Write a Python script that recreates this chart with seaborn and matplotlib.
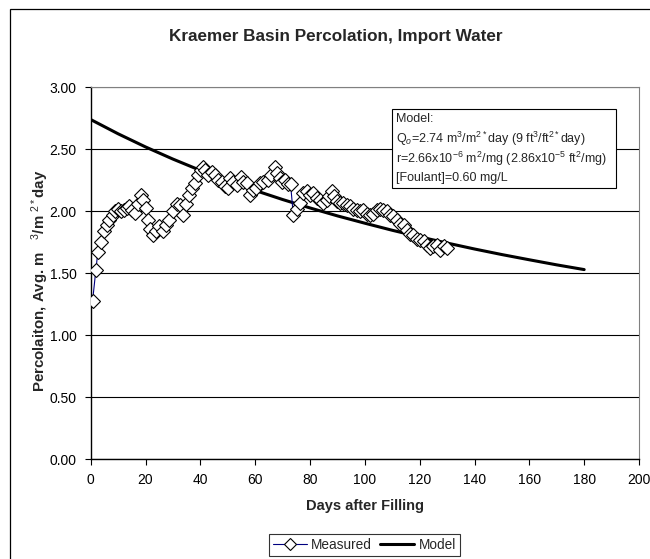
import matplotlib
matplotlib.use("Agg")
import matplotlib.pyplot as plt
from matplotlib.lines import Line2D
from matplotlib.patches import Rectangle
import seaborn as sns
import pandas as pd

# ---- data -------------------------------------------------------------
measured_days = [0.7, 1.9, 2.6, 3.8, 4.7, 5.8, 6.8, 8.0, 9.0, 9.9, 11.1, 12.3, 13.2, 14.1,
                 15.2, 16.3, 17.4, 18.4, 19.0, 20.2, 20.8, 21.6, 22.6, 23.8, 25.0, 26.3,
                 27.5, 28.7, 30.1, 31.4, 32.6, 33.8, 34.8, 36.0, 37.0, 38.2, 39.3, 40.3,
                 41.1, 41.7, 42.9, 44.2, 45.4, 46.6, 47.8, 49.0, 50.2, 50.8, 52.0, 53.3,
                 54.7, 55.7, 56.9, 58.1, 59.1, 60.3, 61.8, 63.0, 64.5, 65.9, 67.1, 68.0,
                 68.9, 69.7, 70.9, 72.1, 72.9, 73.9, 75.2, 76.4, 77.6, 78.8, 80.0, 81.2,
                 82.5, 83.7, 84.9, 86.1, 87.0, 88.0, 88.9, 89.8, 91.0, 92.2, 93.4, 94.6,
                 95.8, 97.1, 98.3, 99.5, 100.7, 101.9, 103.1, 104.4, 105.6, 106.8, 108.0,
                 109.2, 110.4, 111.6, 112.9, 114.1, 115.3, 116.5, 117.7, 119.0, 120.2,
                 121.4, 122.6, 123.8, 125.0, 126.3, 127.5, 128.7, 129.9]
measured_vals = [1.28, 1.53, 1.67, 1.75, 1.84, 1.89, 1.93, 1.97, 2.00, 2.02, 2.00, 2.01, 2.03, 2.04,
                 2.01, 1.99, 2.06, 2.13, 2.09, 2.03, 1.93, 1.86, 1.81, 1.84, 1.88, 1.84,
                 1.89, 1.93, 2.00, 2.06, 2.05, 1.97, 2.06, 2.13, 2.19, 2.23, 2.29, 2.33,
                 2.36, 2.33, 2.29, 2.32, 2.29, 2.25, 2.24, 2.20, 2.19, 2.27, 2.24, 2.21,
                 2.28, 2.24, 2.23, 2.13, 2.17, 2.19, 2.23, 2.24, 2.25, 2.29, 2.36, 2.31,
                 2.27, 2.24, 2.25, 2.22, 2.22, 1.97, 2.02, 2.07, 2.15, 2.16, 2.13, 2.15,
                 2.11, 2.09, 2.07, 2.09, 2.12, 2.16, 2.12, 2.08, 2.07, 2.07, 2.05, 2.04,
                 2.02, 2.01, 2.00, 2.01, 1.98, 1.97, 1.98, 2.01, 2.02, 2.01, 2.00,
                 1.97, 1.96, 1.93, 1.90, 1.89, 1.85, 1.82, 1.81, 1.78, 1.77,
                 1.76, 1.73, 1.70, 1.72, 1.73, 1.69, 1.72, 1.70]

model_days = [0, 10, 20, 30, 40, 50, 60, 70, 80, 90, 100, 110, 120, 130, 140, 150, 160, 170, 180]
model_vals = [2.74, 2.625, 2.519, 2.421, 2.330, 2.246, 2.168, 2.095, 2.027, 1.963, 1.904,
              1.847, 1.794, 1.744, 1.696, 1.651, 1.609, 1.568, 1.530]

x_ticks = [0, 20, 40, 60, 80, 100, 120, 140, 160, 180, 200]
y_ticks = [0.0, 0.5, 1.0, 1.5, 2.0, 2.5, 3.0]

title = "Kraemer Basin Percolation, Import Water"
x_label = "Days after Filling"
y_label = "Percolaiton, Avg. m   $^{3}$/m $^{2*}$day"
model_text = ["Model:",
              "Q$_{o}$=2.74 m$^{3}$/m$^{2*}$day (9 ft$^{3}$/ft$^{2*}$day)",
              "r=2.66x10$^{-6}$ m$^{2}$/mg (2.86x10$^{-5}$ ft$^{2}$/mg)",
              "[Foulant]=0.60 mg/L"]

# ---- style ------------------------------------------------------------
sns.set_theme(style="white")
plt.rcParams["font.family"] = ["Liberation Sans", "DejaVu Sans"]
plt.rcParams["mathtext.fontset"] = "custom"
plt.rcParams["mathtext.rm"] = "Liberation Sans"
plt.rcParams["mathtext.it"] = "Liberation Sans:italic"
plt.rcParams["mathtext.bf"] = "Liberation Sans:bold"

W, H = 650, 559
fig = plt.figure(figsize=(W / 100, H / 100), dpi=100)
fig.patch.set_facecolor("white")

left, right, top, bottom = 90.7, 639.0, 87.3, 459.3
ax = fig.add_axes([left / W, 1 - bottom / H, (right - left) / W, (bottom - top) / H])

df_meas = pd.DataFrame({"day": measured_days, "val": measured_vals})
df_model = pd.DataFrame({"day": model_days, "val": model_vals})

sns.lineplot(data=df_model, x="day", y="val", ax=ax, color="black", lw=2.2,
             estimator=None, sort=False, zorder=2)
sns.lineplot(data=df_meas, x="day", y="val", ax=ax, color="#000080", lw=0.8,
             estimator=None, sort=False, marker="D", markersize=7.3,
             markerfacecolor="white", markeredgecolor="black", markeredgewidth=0.8,
             zorder=3)

ax.set_xlim(0, 200)
ax.set_ylim(0, 3)
ax.set_xticks(x_ticks)
ax.set_yticks(y_ticks)
ax.set_xticklabels([str(t) for t in x_ticks])
ax.set_yticklabels([f"{t:.2f}" for t in y_ticks])
ax.tick_params(axis="both", which="major", direction="out", length=4, width=0.8,
               color="black", labelsize=10, labelcolor="black", bottom=True, left=True,
               pad=6)
ax.yaxis.grid(True, color="black", lw=0.8)
ax.xaxis.grid(False)
ax.set_axisbelow(True)
for side in ["left", "bottom"]:
    ax.spines[side].set_color("black")
    ax.spines[side].set_linewidth(1.0)
for side in ["right", "top"]:
    ax.spines[side].set_color("#808080")
    ax.spines[side].set_linewidth(0.8)
ax.set_xlabel("")
ax.set_ylabel("")

fig.text(336 / W, 1 - 37 / H, title, ha="center", va="center", fontsize=12.3,
         fontweight="bold")
fig.text(364.5 / W, 1 - 506 / H, x_label, ha="center", va="center", fontsize=10.5,
         fontweight="bold")
fig.text(40 / W, 1 - 281 / H, y_label, ha="center", va="center", rotation=90,
         fontsize=10.8, fontweight="bold")

# model annotation box
bx0, by0, bx1, by1 = 392.3, 109.3, 616.0, 188.3
fig.patches.append(Rectangle((bx0 / W, 1 - by1 / H), (bx1 - bx0) / W, (by1 - by0) / H,
                             transform=fig.transFigure, facecolor="white",
                             edgecolor="black", lw=0.8, zorder=5))
for i, line in enumerate(model_text):
    fig.text((bx0 + 4) / W, 1 - (119 + i * 19.8) / H, line, ha="left", va="center",
             fontsize=9, zorder=6)

# outer chart border
fig.patches.append(Rectangle((10 / W, -0.05), 1.2, 1 - 9 / H + 0.05,
                             transform=fig.transFigure, facecolor="none",
                             edgecolor="black", lw=0.9, zorder=0))

handles = [
    Line2D([], [], color="#000080", lw=0.8, marker="D", markersize=6.5,
           markerfacecolor="white", markeredgecolor="black", markeredgewidth=0.8),
    Line2D([], [], color="black", lw=2.2),
]
leg = fig.legend(handles, ["Measured", "Model"], loc="center",
                 bbox_to_anchor=(364.5 / W, 1 - 545 / H), ncol=2, fontsize=9.8,
                 frameon=True, fancybox=False, edgecolor="black", handlelength=2.5,
                 handletextpad=0.3, columnspacing=0.6, borderpad=0.3)
leg.get_frame().set_linewidth(0.8)

fig.savefig("out.png", dpi=100, facecolor="white")
